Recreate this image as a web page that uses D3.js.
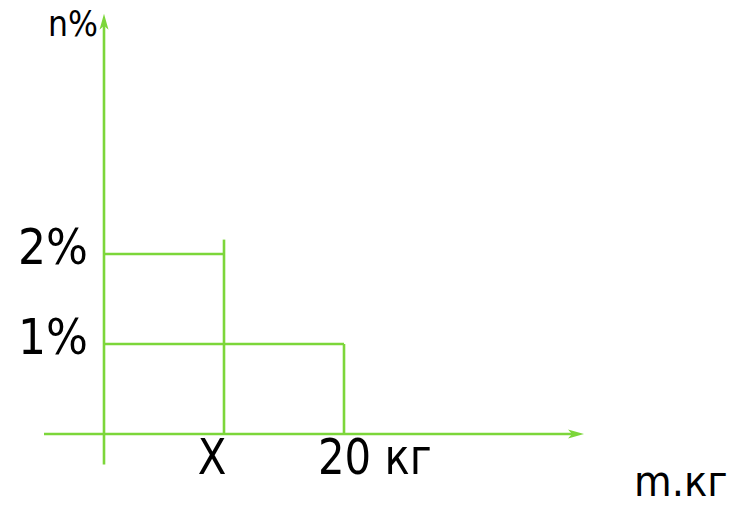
<!DOCTYPE html>
<html>
<head>
<meta charset="utf-8">
<script src="https://cdn.jsdelivr.net/npm/d3@7"></script>
<style>
  body { margin: 0; background: #fff; }
  text { font-family: "DejaVu Sans Condensed", "DejaVu Sans", sans-serif; fill: #000; }
</style>
</head>
<body>
<script>
// levels (n%) and the masses (kg) they hold up to
const levels = [2, 1];
const masses = [10, 20];
const lineTops = [2.16, 1];          // vertical line at X goes a little above the 2% level
const yLabels = ["2%", "1%"];
const xLabels = ["X", "20 кг"];
const xExtent = [-5, 40];
const yExtent = [-0.34, 4.67];

const w = 746, h = 508;
const green = "#7cd63a";

const svg = d3.select("body")
  .append("svg")
  .attr("width", w)
  .attr("height", h);

const x = d3.scaleLinear().domain([0, 20]).range([104, 344]);
const y = d3.scaleLinear().domain([0, 2]).range([434, 254]);

const g = svg.append("g")
  .attr("stroke", green)
  .attr("stroke-width", 2.6)
  .attr("fill", "none");

// axes
g.append("line")
  .attr("x1", x(xExtent[0])).attr("x2", x(xExtent[1]) - 10)
  .attr("y1", y(0)).attr("y2", y(0));
g.append("line")
  .attr("x1", x(0)).attr("x2", x(0))
  .attr("y1", y(yExtent[0])).attr("y2", y(yExtent[1]) + 10);

// arrow heads
const head = "M0,-4.5 L16,0 L0,4.5 L4,0 Z";
svg.append("path")
  .attr("d", head)
  .attr("fill", green)
  .attr("transform", `translate(${x(xExtent[1]) - 16},${y(0)})`);
svg.append("path")
  .attr("d", head)
  .attr("fill", green)
  .attr("transform", `translate(${x(0)},${y(yExtent[1]) + 16}) rotate(-90)`);

// level lines
g.selectAll(".hline")
  .data(levels)
  .enter()
  .append("line")
  .attr("class", "hline")
  .attr("x1", x(0))
  .attr("x2", (d, i) => x(masses[i]))
  .attr("y1", d => y(d))
  .attr("y2", d => y(d));

g.selectAll(".vline")
  .data(masses)
  .enter()
  .append("line")
  .attr("class", "vline")
  .attr("x1", d => x(d))
  .attr("x2", d => x(d))
  .attr("y1", y(0))
  .attr("y2", (d, i) => y(lineTops[i]));

// labels (the original face is narrow)
svg.selectAll(".ylab")
  .data(levels)
  .enter()
  .append("text")
  .attr("class", "ylab")
  .attr("transform", d => `translate(88,${y(d) + 10}) scale(0.98,1)`)
  .attr("text-anchor", "end")
  .attr("font-size", 50)
  .text((d, i) => yLabels[i]);

svg.selectAll(".xlab")
  .data(masses)
  .enter()
  .append("text")
  .attr("class", "xlab")
  .attr("transform", (d, i) => `translate(${i === 0 ? x(d) - 12 : x(d) - 26},${y(0) + 40}) scale(0.93,1)`)
  .attr("text-anchor", (d, i) => i === 0 ? "middle" : "start")
  .attr("font-size", 50)
  .text((d, i) => xLabels[i]);

svg.append("text")
  .attr("x", 48)
  .attr("y", 36)
  .attr("font-size", 35)
  .text("n%");

svg.append("text")
  .attr("x", 634)
  .attr("y", 496)
  .attr("font-size", 43)
  .text("m.кг");
</script>
</body>
</html>
